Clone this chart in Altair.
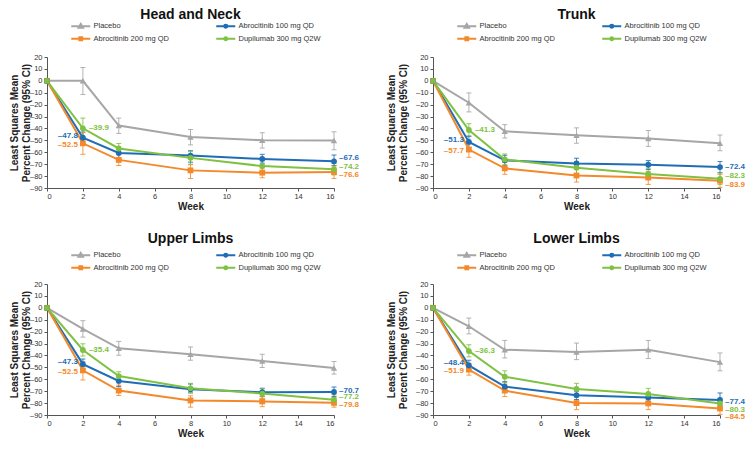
import altair as alt
import pandas as pd

WEEKS = [0, 2, 4, 8, 12, 16]
SERIES = ["Placebo", "Abrocitinib 100 mg QD", "Abrocitinib 200 mg QD", "Dupilumab 300 mg Q2W"]
COLORS = ["#a6a6a6", "#1f6db5", "#f4892b", "#7fc143"]
SHAPES = ["triangle-up", "circle", "square", "circle"]
# legend entries fill column by column: Placebo / Abro 200 | Abro 100 / Dupilumab
LEGEND_ORDER = [0, 2, 1, 3]
PANELS = ["Head and Neck", "Trunk", "Upper Limbs", "Lower Limbs"]
Y_TICKS = list(range(-90, 21, 10))
X_TICKS = list(range(0, 17, 2))

# series order in each list: Placebo, Abrocitinib 100, Abrocitinib 200, Dupilumab
HN_MEAN = [[0, 0, -37.6, -47.2, -49.9, -50.2],
           [0, -47.8, -60.6, -62.8, -65.6, -67.6],
           [0, -52.5, -66.4, -75.2, -77.1, -76.6],
           [0, -39.9, -56.8, -64.7, -71.6, -74.2]]
HN_LO = [[0, -11.5, -44.2, -53.8, -56.5, -57.9],
         [0, -53.0, -65.0, -68.3, -69.1, -71.1],
         [0, -61.7, -71.1, -82.0, -81.4, -82.0],
         [0, -47.7, -61.0, -70.0, -76.0, -79.0]]
HN_HI = [[0, 11.2, -31.3, -40.9, -43.6, -42.8],
         [0, -43.0, -57.0, -58.7, -61.7, -62.3],
         [0, -43.5, -61.7, -70.5, -73.2, -71.5],
         [0, -31.3, -52.6, -59.5, -67.0, -69.5]]

TR_MEAN = [[0, -18.4, -42.3, -45.8, -48.5, -52.4],
           [0, -51.3, -66.8, -69.4, -70.5, -72.4],
           [0, -57.7, -73.5, -79.5, -81.2, -83.9],
           [0, -41.3, -66.0, -73.0, -78.2, -82.3]]
TR_LO = [[0, -26.1, -48.0, -52.4, -55.1, -58.7],
         [0, -56.0, -71.0, -73.8, -74.4, -77.1],
         [0, -64.2, -78.5, -85.0, -87.0, -89.5],
         [0, -46.5, -70.5, -78.0, -83.0, -87.0]]
TR_HI = [[0, -10.2, -36.8, -39.5, -41.7, -45.5],
         [0, -46.5, -62.5, -65.0, -67.0, -67.8],
         [0, -51.0, -68.5, -74.0, -76.0, -78.5],
         [0, -36.0, -61.4, -68.0, -73.5, -77.5]]

UL_MEAN = [[0, -17.7, -34.0, -39.0, -44.6, -50.6],
           [0, -47.3, -61.4, -68.3, -70.9, -70.7],
           [0, -52.5, -69.5, -77.8, -78.6, -79.8],
           [0, -35.4, -57.3, -67.6, -72.0, -77.2]]
UL_LO = [[0, -24.6, -39.8, -44.0, -50.1, -55.6],
         [0, -51.5, -66.0, -71.5, -74.5, -74.5],
         [0, -60.6, -73.6, -83.4, -83.0, -83.4],
         [0, -40.5, -61.0, -71.0, -76.0, -81.0]]
UL_HI = [[0, -10.8, -28.2, -32.9, -39.0, -45.1],
         [0, -43.0, -57.0, -64.0, -67.5, -66.5],
         [0, -45.0, -65.0, -73.9, -74.5, -75.5],
         [0, -30.2, -53.7, -63.4, -68.0, -73.0]]

LL_MEAN = [[0, -15.5, -35.2, -37.1, -35.2, -45.6],
           [0, -48.4, -66.2, -73.4, -75.3, -77.4],
           [0, -51.9, -69.5, -80.0, -80.3, -84.5],
           [0, -36.3, -57.9, -68.1, -72.3, -80.3]]
LL_LO = [[0, -21.9, -42.1, -43.5, -42.6, -52.9],
         [0, -52.5, -71.0, -77.0, -79.0, -82.5],
         [0, -56.5, -74.5, -85.5, -85.5, -89.5],
         [0, -41.2, -62.8, -73.1, -77.2, -84.5]]
LL_HI = [[0, -8.6, -27.4, -29.6, -27.4, -37.9],
         [0, -44.0, -62.0, -70.0, -72.0, -71.5],
         [0, -46.5, -64.0, -74.5, -75.0, -79.5],
         [0, -31.0, -52.9, -63.4, -67.6, -76.0]]

# vertical pixel nudges of the week-16 value labels (Abro 100, Abro 200, Dupilumab)
HN_NUDGE = [-3, 3.3, -2.5]
TR_NUDGE = [0, 4, -2.6]
UL_NUDGE = [-1.5, 2.5, -2.8]
LL_NUDGE = [2.5, 8.6, 6.5]
# vertical pixel nudges of the week-2 labels left of the points (Abro 100, Abro 200)
WK2_NUDGE = [-2, 1.5]

FONT = "Liberation Sans"

# legend symbols: line + marker as custom paths (1 unit = 2 px at symbol size 16)
LINE = "M-4.75,0H4.75"
LEGEND_MARKS = ["M0,-1.1L1.1,0.75L-1.1,0.75Z",
                "M0.75,0A0.75,0.75,0,1,1,-0.75,0A0.75,0.75,0,1,1,0.75,0Z",
                "M-0.7,-0.7H0.7V0.7H-0.7Z",
                "M0.75,0A0.75,0.75,0,1,1,-0.75,0A0.75,0.75,0,1,1,0.75,0Z"]

W = 287
H = 131


def make_legend(ly):
    return alt.Legend(
        title=None, orient="none", legendX=30, legendY=ly, columns=2,
        gridAlign="all", columnPadding=36, rowPadding=1, padding=0,
        symbolSize=16, symbolStrokeWidth=2, labelOffset=9,
        labelFont=FONT, labelFontSize=7.5, labelColor="#333",
    )


def make_panel(name, mean, lo, hi, nudge, ly, title_x, title_offset):
    rows = []
    for s, series in enumerate(SERIES):
        for w, week in enumerate(WEEKS):
            rows.append({"series": series, "week": week, "value": mean[s][w],
                         "lo": lo[s][w], "hi": hi[s][w]})
    df = pd.DataFrame(rows)
    labels = []
    for s in range(1, 4):
        labels.append({"series": SERIES[s], "week": 2, "value": mean[s][1],
                       "side": "left" if s < 3 else "right"})
        labels.append({"series": SERIES[s], "week": 16, "value": mean[s][5], "side": "end"})
    ldf = pd.DataFrame(labels)

    xaxis = alt.Axis(values=X_TICKS, title="Week", labelPadding=1, titlePadding=2)
    yaxis = alt.Axis(values=Y_TICKS, title=["Least Squares Mean", "Percent Change (95% CI)"],
                     titleX=title_x, titleBaseline="alphabetic", titleLineHeight=12,
                     labelPadding=2,
                     labelExpr="datum.value < 0 ? '\u2013' + abs(datum.value) : '' + datum.value")
    xs = alt.Scale(domain=[0, 16], nice=False)
    ys = alt.Scale(domain=[-90, 20], nice=False)
    # colour scale for the drawn marks (domain listed in reverse so that it stays
    # a separate, hidden legend from the one built below)
    cs = alt.Scale(domain=SERIES[::-1], range=COLORS[::-1])
    color = alt.Color("series:N", scale=cs, legend=None)
    X = alt.X("week:Q", scale=xs, axis=xaxis)
    Y = alt.Y("value:Q", scale=ys, axis=yaxis)

    base = alt.Chart(df)
    lines = base.mark_line(strokeWidth=2).encode(x=X, y=Y, color=color)
    err = base.transform_filter("datum.week > 0")
    rules = err.mark_rule(strokeWidth=1, opacity=0.85).encode(
        x=X, y=alt.Y("lo:Q", scale=ys, axis=yaxis), y2="hi:Q", color=color)
    cap_lo = err.mark_tick(orient="horizontal", size=5, thickness=1, opacity=0.85).encode(
        x=X, y=alt.Y("lo:Q", scale=ys, axis=yaxis), color=color)
    cap_hi = err.mark_tick(orient="horizontal", size=5, thickness=1, opacity=0.85).encode(
        x=X, y=alt.Y("hi:Q", scale=ys, axis=yaxis), color=color)

    point_layers = []
    for shp in ["triangle-up", "square", "circle"]:
        names = [s for s, sh in zip(SERIES, SHAPES) if sh == shp]
        point_layers.append(
            base.transform_filter(alt.FieldOneOfPredicate(field="series", oneOf=names))
            .mark_point(filled=True, size=34 if shp != "triangle-up" else 40, opacity=1, shape=shp)
            .encode(x=X, y=Y, color=color))

    # legend carrier: no data rows, only scales for fill / stroke / shape
    leg = make_legend(ly)
    ldom = [SERIES[i] for i in LEGEND_ORDER]
    lcol = [COLORS[i] for i in LEGEND_ORDER]
    lshape = [LINE + LEGEND_MARKS[i] for i in LEGEND_ORDER]
    legend_layer = base.transform_filter("false").mark_point(filled=True, opacity=1, strokeWidth=2).encode(
        x=X, y=Y,
        fill=alt.Fill("series:N", scale=alt.Scale(domain=ldom, range=lcol), legend=leg),
        stroke=alt.Stroke("series:N", scale=alt.Scale(domain=ldom, range=lcol), legend=leg),
        shape=alt.Shape("series:N", scale=alt.Scale(domain=ldom, range=lshape), legend=leg),
    )

    lab = alt.Chart(ldf).transform_calculate(
        txt="'\u2013' + format(abs(datum.value), '.1f')")
    common = dict(x=X, y=Y, color=color, text="txt:N")
    text_layers = [
        lab.transform_filter("datum.side == 'right'").mark_text(
            align="left", dx=6, fontSize=8, fontWeight="bold", font=FONT).encode(**common),
    ]
    for s in range(1, 3):
        text_layers.append(
            lab.transform_filter(f"datum.side == 'left' && datum.series == '{SERIES[s]}'").mark_text(
                align="right", dx=-5, dy=WK2_NUDGE[s - 1], fontSize=8, fontWeight="bold",
                font=FONT).encode(**common))
    for s in range(1, 4):
        text_layers.append(
            lab.transform_filter(f"datum.side == 'end' && datum.series == '{SERIES[s]}'").mark_text(
                align="left", dx=5, dy=nudge[s - 1], fontSize=8, fontWeight="bold",
                font=FONT).encode(**common))

    return alt.layer(legend_layer, rules, cap_lo, cap_hi, lines, *point_layers,
                     *text_layers).properties(
        width=W, height=H,
        title=alt.Title(name, fontSize=14, fontWeight="bold", font=FONT, color="#111",
                        anchor="middle", offset=title_offset),
    )


p1 = make_panel(PANELS[0], HN_MEAN, HN_LO, HN_HI, HN_NUDGE, -35, -30, 0)
p2 = make_panel(PANELS[1], TR_MEAN, TR_LO, TR_HI, TR_NUDGE, -35, -39, 0)
p3 = make_panel(PANELS[2], UL_MEAN, UL_LO, UL_HI, UL_NUDGE, -33, -30, 5)
p4 = make_panel(PANELS[3], LL_MEAN, LL_LO, LL_HI, LL_NUDGE, -33, -39, 5)

chart = alt.concat(p1, p2, p3, p4, columns=2, spacing={"row": 96, "column": 99},
                   bounds="flush").resolve_scale(
    color="independent", shape="independent", fill="independent", stroke="independent").resolve_legend(
    color="independent", shape="independent", fill="independent", stroke="independent").configure_view(
    stroke=None).configure_axis(
    labelFont=FONT, labelFontSize=7.5, labelColor="#333", domainColor="#555",
    tickColor="#555", tickSize=3, grid=False, titleFont=FONT, titleFontSize=10,
    titleFontWeight="bold", titleColor="#222").properties(padding=0)

chart.save("out.html", embed_options={"renderer": "svg", "actions": False})
